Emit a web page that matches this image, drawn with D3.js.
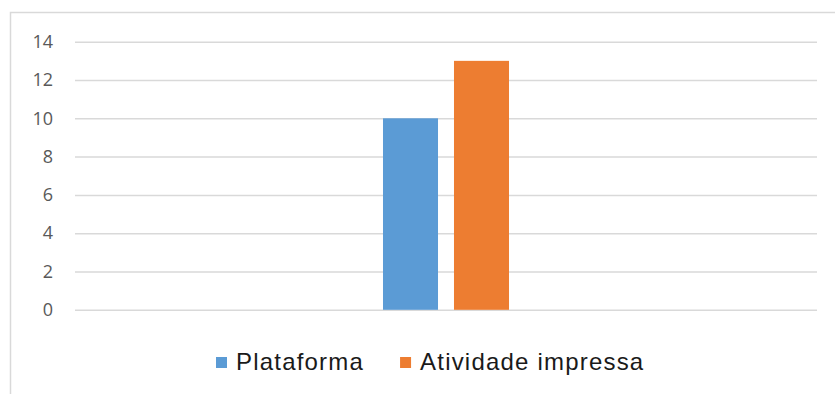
<!DOCTYPE html>
<html>
<head>
<meta charset="utf-8">
<script src="https://cdn.jsdelivr.net/npm/d3@7"></script>
<style>
  html, body { margin: 0; padding: 0; background: #fff; }
  svg { display: block; }
</style>
</head>
<body>
<svg id="chart" width="835" height="394"></svg>
<script>
// Chart data
const categories = [""];
const seriesNames = ["Plataforma", "Atividade impressa"];
const seriesColors = ["#5B9BD5", "#ED7D31"];
const plataformaValues = [10];
const atividadeValues = [13];
const yTicks = [0, 2, 4, 6, 8, 10, 12, 14];

const seriesValues = [plataformaValues, atividadeValues];

const svg = d3.select("#chart");
const W = 835, H = 394;

// Outer chart frame (top and left edges visible)
svg.append("rect")
  .attr("x", 10.5).attr("y", 12.5)
  .attr("width", W + 20).attr("height", H + 20)
  .attr("fill", "#fff")
  .attr("stroke", "#d9d9d9").attr("stroke-width", 1.5);

const plot = { left: 75, right: 817, top: 41.7, bottom: 309.8 };

const y = d3.scaleLinear().domain([0, 14]).range([plot.bottom, plot.top]);

const x0 = d3.scaleBand()
  .domain(categories)
  .range([plot.left, plot.right])
  .paddingInner(0)
  .paddingOuter(2.444);

const x1 = d3.scaleBand()
  .domain(seriesNames)
  .range([0, x0.bandwidth()])
  .paddingInner(0.225)
  .paddingOuter(0);

// Gridlines
const yAxis = d3.axisLeft(y)
  .tickValues(yTicks)
  .tickSize(-(plot.right - plot.left))
  .tickPadding(22)
  .tickFormat(d3.format("d"));

const gAxis = svg.append("g")
  .attr("transform", `translate(${plot.left},0)`)
  .call(yAxis);
gAxis.select(".domain").remove();
gAxis.selectAll(".tick line")
  .attr("stroke", "#d9d9d9")
  .attr("stroke-width", 1.5);
gAxis.selectAll(".tick text")
  .attr("fill", "#595959")
  .style("font-family", "'Open Sans', 'Noto Sans', sans-serif")
  .style("font-size", "18px");

// Bars
const groups = svg.append("g")
  .selectAll("g")
  .data(categories)
  .join("g")
  .attr("transform", d => `translate(${x0(d)},0)`);

groups.selectAll("rect")
  .data((d, ci) => seriesNames.map((name, si) => ({ name, value: seriesValues[si][ci], color: seriesColors[si] })))
  .join("rect")
  .attr("x", d => x1(d.name))
  .attr("width", x1.bandwidth())
  .attr("y", d => y(d.value))
  .attr("height", d => y(0) - y(d.value))
  .attr("fill", d => d.color);

// Legend
const legend = svg.append("g");
let lx = 216;
const legendY = 370;
seriesNames.forEach((name, i) => {
  legend.append("rect")
    .attr("x", lx).attr("y", 357)
    .attr("width", 11).attr("height", 11)
    .attr("fill", seriesColors[i]);
  const t = legend.append("text")
    .attr("x", lx + 20).attr("y", legendY)
    .attr("fill", "#1a1a1a")
    .style("font-family", "'Liberation Sans', Arial, sans-serif")
    .style("font-size", "24px")
    .style("letter-spacing", "1.2px")
    .text(name);
  lx = lx + 20 + t.node().getComputedTextLength() + 36;
});
</script>
</body>
</html>
